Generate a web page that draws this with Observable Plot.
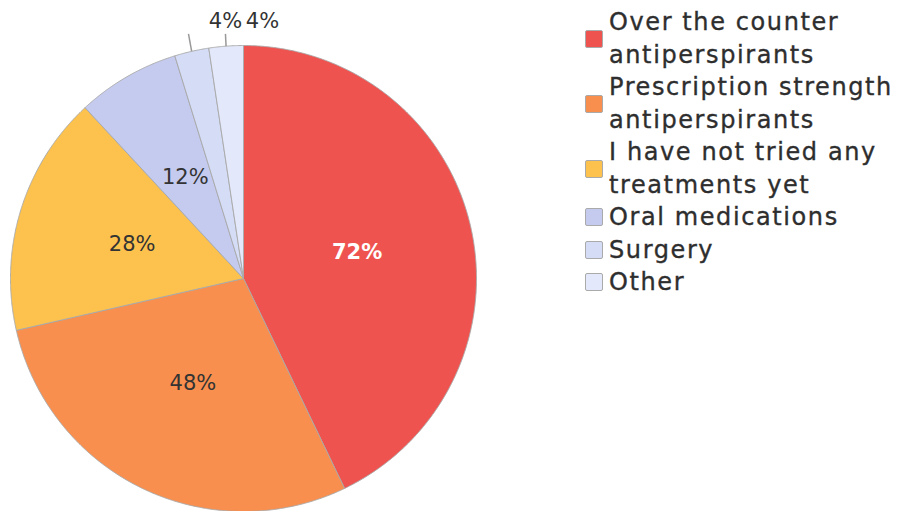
<!DOCTYPE html>
<html>
<head>
<meta charset="utf-8">
<script src="https://cdn.jsdelivr.net/npm/d3@7"></script>
<script src="https://cdn.jsdelivr.net/npm/@observablehq/plot@0.6"></script>
<style>
  html, body { margin: 0; padding: 0; background: #fff; }
  #wrap { position: relative; width: 904px; height: 511px; overflow: hidden; font-family: "DejaVu Sans", sans-serif; }
  #legend { position: absolute; left: 585px; top: 6px; color: #2e2e2e; font-size: 24px; line-height: 32.5px; letter-spacing: 1.6px; -webkit-text-stroke: 0.35px #2e2e2e; }
  .item { display: flex; align-items: center; }
  .sw { width: 16px; height: 16px; border: 1px solid #aaa; border-radius: 2px; margin-right: 6px; flex: none; }
  .txt { white-space: nowrap; }
  svg text { -webkit-text-stroke: 0.3px currentColor; }
</style>
</head>
<body>
<div id="wrap">
  <div id="chart"></div>
  <div id="legend"></div>
</div>
<script>
const categories = ["Over the counter antiperspirants", "Prescription strength antiperspirants", "I have not tried any treatments yet", "Oral medications", "Surgery", "Other"];
const legendLines = [["Over the counter", "antiperspirants"], ["Prescription strength", "antiperspirants"], ["I have not tried any", "treatments yet"], ["Oral medications"], ["Surgery"], ["Other"]];
const values = [72, 48, 28, 12, 4, 4];
const labels = ["72%", "48%", "28%", "12%", "4%", "4%"];
const colors = ["#ef5350", "#f98f4e", "#fdc24e", "#c5cbef", "#d4dcf6", "#e3e8fa"];
const outside = [false, false, false, false, true, true];

const arcs = d3.pie().sort(null).value(d => d)(values);

// wedge outlines in data space (unit circle, y up), derived from the pie angles
const wedgePts = [];
arcs.forEach((a, i) => {
  const cat = categories[i];
  wedgePts.push({cat, x: 0, y: 0});
  const n = Math.max(4, Math.ceil((a.endAngle - a.startAngle) / 0.005));
  for (let k = 0; k <= n; k++) {
    const t = a.startAngle + (a.endAngle - a.startAngle) * k / n;
    wedgePts.push({cat, x: Math.sin(t), y: Math.cos(t)});
  }
  wedgePts.push({cat, x: 0, y: 0});
});

const mid = a => (a.startAngle + a.endAngle) / 2;
const inner = arcs.map((a, i) => ({i, label: labels[i], x: 0.5 * Math.sin(mid(a)), y: 0.5 * Math.cos(mid(a))})).filter(d => !outside[d.i]);
const leaderTop = 1.05;
const leaders = [];
arcs.forEach((a, i) => {
  if (!outside[i]) return;
  const m = mid(a);
  const t = leaderTop / Math.cos(m);
  leaders.push({i, x1: Math.sin(m), y1: Math.cos(m), x2: t * Math.sin(m) * 0.985, y2: leaderTop});
});
const outerLabels = leaders.map(d => ({label: labels[d.i], x: d.x2, y: d.y2}));

const chart = Plot.plot({
  width: 904,
  height: 511,
  marginLeft: 10,
  marginRight: 428,
  marginTop: 45,
  marginBottom: 0,
  x: {domain: [-1, 1], axis: null},
  y: {domain: [-1, 1], axis: null},
  color: {domain: categories, range: colors},
  style: {fontFamily: "DejaVu Sans, sans-serif", background: "transparent", overflow: "visible"},
  marks: [
    Plot.line(wedgePts, {x: "x", y: "y", z: "cat", fill: "cat", stroke: "#a8a8a8", strokeWidth: 0.9, curve: "linear"}),
    Plot.text(inner.filter(d => d.i === 0), {x: "x", y: "y", text: "label", fill: "#ffffff", fontSize: 21, fontWeight: "bold", stroke: null}),
    Plot.text(inner.filter(d => d.i !== 0), {x: "x", y: "y", text: "label", fill: "#333333", fontSize: 21}),
    Plot.link(leaders, {x1: "x1", y1: "y1", x2: "x2", y2: "y2", stroke: "#999", strokeWidth: 1.5}),
    Plot.text(outerLabels, {x: "x", y: "y", text: "label", dx: 37, dy: -13, fill: "#333", fontSize: 21})
  ]
});
document.getElementById("chart").appendChild(chart);

const legend = document.getElementById("legend");
categories.forEach((c, i) => {
  const item = document.createElement("div");
  item.className = "item";
  const sw = document.createElement("div");
  sw.className = "sw";
  sw.style.background = colors[i];
  const txt = document.createElement("div");
  txt.className = "txt";
  txt.innerHTML = legendLines[i].join("<br>");
  item.appendChild(sw);
  item.appendChild(txt);
  legend.appendChild(item);
});
</script>
</body>
</html>
